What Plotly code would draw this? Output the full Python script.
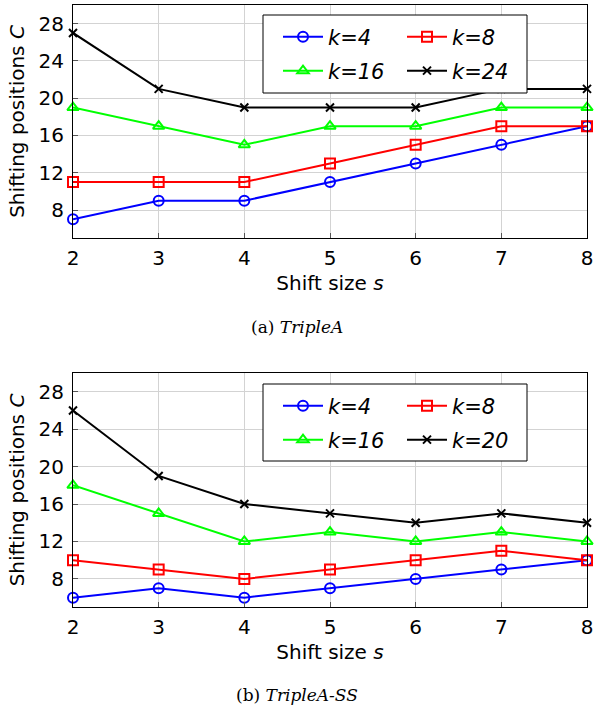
import plotly.graph_objects as go

shift_sizes = [2, 3, 4, 5, 6, 7, 8]

# (a) TripleA
a_k4 = [7, 9, 9, 11, 13, 15, 17]
a_k8 = [11, 11, 11, 13, 15, 17, 17]
a_k16 = [19, 17, 15, 17, 17, 19, 19]
a_k24 = [27, 21, 19, 19, 19, 21, 21]

# (b) TripleA-SS
b_k4 = [6, 7, 6, 7, 8, 9, 10]
b_k8 = [10, 9, 8, 9, 10, 11, 10]
b_k16 = [18, 15, 12, 13, 12, 13, 12]
b_k20 = [26, 19, 16, 15, 14, 15, 14]

y_ticks = [8, 12, 16, 20, 24, 28]
captions = ["(a) <i>TripleA</i>", "(b) <i>TripleA-SS</i>"]

styles = [
    ("#0000ff", "circle-open", 10),
    ("#ff0000", "square-open", 10),
    ("#00ff00", "triangle-up-open", 10),
    ("#000000", "x-thin-open", 8),
]

fig = go.Figure()

# each legend row is its own legend: (row1, row2) per panel
panels = [
    ([a_k4, a_k8, a_k16, a_k24], ["k=4", "k=8", "k=16", "k=24"], "x", "y", ["legend", "legend", "legend2", "legend2"]),
    ([b_k4, b_k8, b_k16, b_k20], ["k=4", "k=8", "k=16", "k=20"], "x2", "y2", ["legend3", "legend3", "legend4", "legend4"]),
]

for series, names, xa, ya, lgs in panels:
    for vals, name, (col, sym, sz), lg in zip(series, names, styles, lgs):
        fig.add_trace(go.Scatter(
            x=shift_sizes, y=vals, mode="lines+markers",
            name="<i>" + name + "</i>",
            line=dict(color=col, width=2),
            marker=dict(symbol=sym, size=sz, color=col, line=dict(color=col, width=2)),
            xaxis=xa, yaxis=ya, legend=lg, cliponaxis=False,
        ))

font_main = "DejaVu Sans"
axis_common = dict(
    showgrid=True, gridcolor="#d3d3d3", gridwidth=1,
    showline=True, linecolor="black", linewidth=1, mirror=True,
    ticks="inside", ticklen=5, tickcolor="#555555",
    tickfont=dict(family=font_main, size=20, color="black"),
    zeroline=False, automargin=False, ticklabeloverflow="allow",
)

dom_x = [73 / 595, 587 / 595]
dom_y1 = [1 - 238 / 716, 1 - 5 / 716]
dom_y2 = [1 - 607 / 716, 1 - 373 / 716]

xcfg = dict(axis_common, range=[2, 8], tickvals=shift_sizes, domain=dom_x, ticklabelstandoff=2,
            title=dict(text="Shift size <i>s</i>", font=dict(family=font_main, size=20, color="black"), standoff=6))
ycfg = dict(axis_common, range=[5, 30], tickvals=y_ticks, ticklabelstandoff=4,
            title=dict(text="Shifting positions <i>C</i>", font=dict(family=font_main, size=20, color="black"), standoff=8))

leg_common = dict(xanchor="left", yanchor="middle", orientation="h", entrywidth=69,
                  bgcolor="rgba(0,0,0,0)", borderwidth=0, itemwidth=40,
                  font=dict(family=font_main, size=21, color="black"), itemsizing="trace")

leg_left = 278 / 595
fig.update_layout(
    width=595, height=716,
    margin=dict(l=0, r=0, t=0, b=0, autoexpand=False),
    paper_bgcolor="white", plot_bgcolor="white",
    xaxis=dict(xcfg, anchor="y"),
    yaxis=dict(ycfg, domain=dom_y1, anchor="x"),
    xaxis2=dict(xcfg, anchor="y2"),
    yaxis2=dict(ycfg, domain=dom_y2, anchor="x2"),
    legend=dict(leg_common, x=leg_left, y=1 - 37 / 716),
    legend2=dict(leg_common, x=leg_left, y=1 - 71 / 716),
    legend3=dict(leg_common, x=leg_left, y=1 - 406 / 716),
    legend4=dict(leg_common, x=leg_left, y=1 - 440 / 716),
    showlegend=True,
)

# legend frames
for top, bot in [(15, 93), (384, 461)]:
    fig.add_shape(type="rect", xref="paper", yref="paper",
                  x0=263 / 595, x1=527 / 595, y0=1 - bot / 716, y1=1 - top / 716,
                  line=dict(color="black", width=1), fillcolor="white", layer="above")

for cap, yc in zip(captions, [327, 695]):
    fig.add_annotation(text=cap, x=297 / 595, y=1 - yc / 716, xref="paper", yref="paper",
                       showarrow=False, xanchor="center", yanchor="middle",
                       font=dict(family="DejaVu Serif", size=17, color="black"))

fig.write_html("out.html", config={"displayModeBar": False},
               post_script="document.documentElement.style.margin='0';document.body.style.margin='0';document.body.style.padding='0';")
